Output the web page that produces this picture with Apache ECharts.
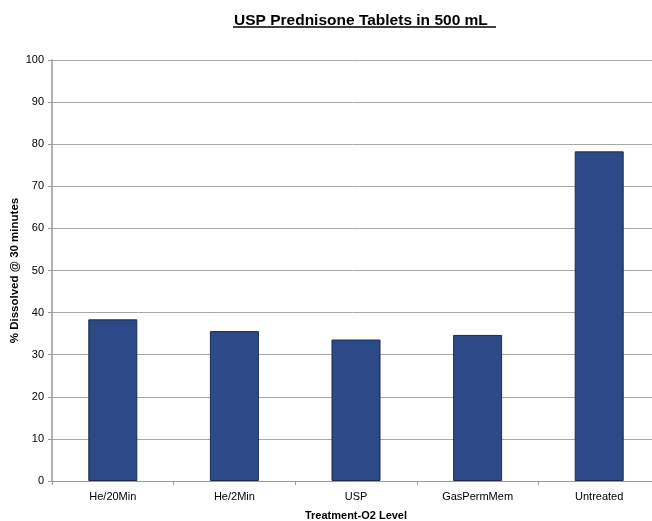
<!DOCTYPE html>
<html><head><meta charset="utf-8">
<script src="https://cdn.jsdelivr.net/npm/echarts@6/dist/echarts.min.js"></script>
<style>html,body{margin:0;padding:0;background:#fff}#c{width:652px;height:521px}</style>
</head><body><div id="c"></div>
<script>
const categories = ['He/20Min', 'He/2Min', 'USP', 'GasPermMem', 'Untreated'];
const dissolved = [38.4, 35.6, 33.6, 34.7, 78.3];
const yTicks = [0, 10, 20, 30, 40, 50, 60, 70, 80, 90, 100];

const chart = echarts.init(document.getElementById('c'), null, {renderer: 'canvas'});
const font = 'Liberation Sans, Arial, sans-serif';
chart.setOption({
  animation: false,
  backgroundColor: '#fff',
  title: {
    text: 'USP Prednisone Tablets in 500 mL',
    left: 229, top: 8,
    textStyle: {fontFamily: font, fontSize: 15.5, fontWeight: 'bold', color: '#000'}
  },
  graphic: [{
    type: 'line', shape: {x1: 233, y1: 27, x2: 496, y2: 27},
    style: {stroke: '#000', lineWidth: 1.5}
  }],
  grid: {left: 52, top: 60, width: 608, height: 421, containLabel: false, outerBoundsMode: 'none'},
  xAxis: {
    type: 'category', data: categories,
    name: 'Treatment-O2 Level', nameLocation: 'middle', nameGap: 29, nameMoveOverlap: false,
    nameTextStyle: {fontFamily: font, fontSize: 11, fontWeight: 'bold', color: '#000'},
    axisLine: {lineStyle: {color: '#999', width: 1}},
    axisTick: {show: true, alignWithLabel: false, length: 4, lineStyle: {color: '#999'}},
    axisLabel: {fontFamily: font, fontSize: 11, color: '#000', margin: 10}
  },
  yAxis: {
    type: 'value', min: yTicks[0], max: yTicks[yTicks.length - 1], interval: 10,
    name: '% Dissolved @ 30 minutes', nameLocation: 'middle', nameGap: 31, nameRotate: 90,
    nameMoveOverlap: false,
    nameTextStyle: {fontFamily: font, fontSize: 11.5, fontWeight: 'bold', color: '#000'},
    axisLine: {show: true, lineStyle: {color: '#999', width: 1.5}},
    axisTick: {show: true, length: 4, lineStyle: {color: '#999'}},
    axisLabel: {fontFamily: font, fontSize: 11, color: '#000', margin: 8},
    splitLine: {lineStyle: {color: '#a8a8a8', width: 1}}
  },
  series: [{
    type: 'bar', data: dissolved, barWidth: 49,
    itemStyle: {color: '#2c4a87', borderColor: '#1b2a4d', borderWidth: 1}
  }]
});
</script></body></html>
